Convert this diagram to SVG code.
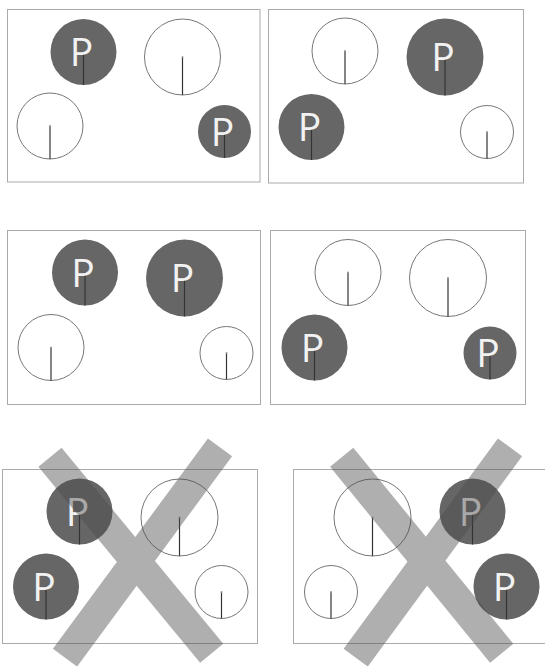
<svg xmlns="http://www.w3.org/2000/svg" width="545" height="666" viewBox="0 0 545 666">
<style>
.panel{fill:none;stroke:#aaaaaa;stroke-width:1}
.dark{fill:#666666;stroke:none}
.light{fill:#ffffff;stroke:#777777;stroke-width:1}
.stem{stroke:#333333;stroke-width:1.2}
.dot{fill:#999999}
.p{font-family:"Open Sans","Noto Sans",sans-serif;font-size:39px;fill:#f2f2f2;text-anchor:middle}
.x{stroke:#4b4b4b;stroke-width:30;stroke-linecap:butt}
</style>
<rect x="0" y="0" width="545" height="666" fill="#ffffff"/>

<g id="panel1">
<rect class="panel" x="7.5" y="9.5" width="252.5" height="172.5"/>
<g id="p1-a"><circle class="dark" cx="83.5" cy="52" r="33"/><line class="stem" x1="83.5" y1="52" x2="83.5" y2="85"/><text class="p" x="81.5" y="66">P</text></g>
<g id="p1-b"><circle class="light" cx="182.5" cy="57" r="38"/><line class="stem" x1="182.5" y1="57" x2="182.5" y2="95"/><circle class="dot" cx="182.5" cy="57" r="1"/></g>
<g id="p1-c"><circle class="light" cx="50" cy="126" r="33"/><line class="stem" x1="50" y1="126" x2="50" y2="159"/><circle class="dot" cx="50" cy="126" r="1"/></g>
<g id="p1-d"><circle class="dark" cx="224.5" cy="131.5" r="26.5"/><line class="stem" x1="224.5" y1="131.5" x2="224.5" y2="158"/><text class="p" x="222.5" y="146">P</text></g>
</g>

<g id="panel2">
<rect class="panel" x="268.5" y="9.5" width="255" height="173.5"/>
<g id="p2-a"><circle class="light" cx="345" cy="51" r="33"/><line class="stem" x1="345" y1="51" x2="345" y2="84"/><circle class="dot" cx="345" cy="51" r="1"/></g>
<g id="p2-b"><circle class="dark" cx="445" cy="57" r="38.5"/><line class="stem" x1="445" y1="57" x2="445" y2="95.5"/><text class="p" x="443" y="71">P</text></g>
<g id="p2-c"><circle class="dark" cx="311.5" cy="127" r="33"/><line class="stem" x1="311.5" y1="127" x2="311.5" y2="160"/><text class="p" x="309.5" y="141">P</text></g>
<g id="p2-d"><circle class="light" cx="487" cy="132" r="26.5"/><line class="stem" x1="487" y1="132" x2="487" y2="158.5"/><circle class="dot" cx="487" cy="132" r="1"/></g>
</g>

<g id="panel3">
<rect class="panel" x="7.5" y="230.5" width="253" height="174"/>
<g id="p3-a"><circle class="dark" cx="85" cy="272.5" r="33"/><line class="stem" x1="85" y1="272.5" x2="85" y2="305.5"/><text class="p" x="83" y="286.5">P</text></g>
<g id="p3-b"><circle class="dark" cx="184.5" cy="278" r="38.5"/><line class="stem" x1="184.5" y1="278" x2="184.5" y2="316.5"/><text class="p" x="182.5" y="292">P</text></g>
<g id="p3-c"><circle class="light" cx="51" cy="347.5" r="33"/><line class="stem" x1="51" y1="347.5" x2="51" y2="380.5"/><circle class="dot" cx="51" cy="347.5" r="1"/></g>
<g id="p3-d"><circle class="light" cx="226.5" cy="353" r="26.5"/><line class="stem" x1="226.5" y1="353" x2="226.5" y2="379.5"/><circle class="dot" cx="226.5" cy="353" r="1"/></g>
</g>

<g id="panel4">
<rect class="panel" x="270.5" y="230.5" width="255" height="174"/>
<g id="p4-a"><circle class="light" cx="348" cy="272.5" r="33"/><line class="stem" x1="348" y1="272.5" x2="348" y2="305.5"/><circle class="dot" cx="348" cy="272.5" r="1"/></g>
<g id="p4-b"><circle class="light" cx="448" cy="278" r="38.5"/><line class="stem" x1="448" y1="278" x2="448" y2="316.5"/><circle class="dot" cx="448" cy="278" r="1"/></g>
<g id="p4-c"><circle class="dark" cx="314.5" cy="347.5" r="33"/><line class="stem" x1="314.5" y1="347.5" x2="314.5" y2="380.5"/><text class="p" x="312.5" y="361.5">P</text></g>
<g id="p4-d"><circle class="dark" cx="490" cy="353" r="26.5"/><line class="stem" x1="490" y1="353" x2="490" y2="379.5"/><text class="p" x="488" y="367">P</text></g>
</g>

<g id="panel5">
<rect class="panel" x="2.5" y="469.5" width="255" height="174"/>
<g id="p5-a"><circle class="dark" cx="79.5" cy="511.5" r="33"/><line class="stem" x1="79.5" y1="511.5" x2="79.5" y2="544.5"/><text class="p" x="77.5" y="525.5">P</text></g>
<g id="p5-b"><circle class="dark" cx="46" cy="586.5" r="33"/><line class="stem" x1="46" y1="586.5" x2="46" y2="619.5"/><text class="p" x="44" y="600.5">P</text></g>
<g id="p5-c"><circle class="light" cx="179.5" cy="517.5" r="38.5"/><line class="stem" x1="179.5" y1="517.5" x2="179.5" y2="556"/><circle class="dot" cx="179.5" cy="517.5" r="1"/></g>
<g id="p5-d"><circle class="light" cx="221.5" cy="592" r="26.5"/><line class="stem" x1="221.5" y1="592" x2="221.5" y2="618.5"/><circle class="dot" cx="221.5" cy="592" r="1"/></g>
<g id="cross5" opacity="0.44">
<line class="x" x1="50" y1="457.3" x2="211.7" y2="653.3"/>
<line class="x" x1="220" y1="447.3" x2="65" y2="657.7"/>
</g>
</g>

<g id="panel6">
<rect class="panel" x="293.5" y="469.5" width="255" height="174"/>
<g id="p6-a"><circle class="light" cx="372.5" cy="517.5" r="38.5"/><line class="stem" x1="372.5" y1="517.5" x2="372.5" y2="556"/><circle class="dot" cx="372.5" cy="517.5" r="1"/></g>
<g id="p6-b"><circle class="light" cx="331" cy="592" r="26.5"/><line class="stem" x1="331" y1="592" x2="331" y2="618.5"/><circle class="dot" cx="331" cy="592" r="1"/></g>
<g id="p6-c"><circle class="dark" cx="472.5" cy="511.5" r="33"/><line class="stem" x1="472.5" y1="511.5" x2="472.5" y2="544.5"/><text class="p" x="470.5" y="525.5">P</text></g>
<g id="p6-d"><circle class="dark" cx="506.5" cy="586.5" r="33"/><line class="stem" x1="506.5" y1="586.5" x2="506.5" y2="619.5"/><text class="p" x="504.5" y="600.5">P</text></g>
<g id="cross6" opacity="0.44">
<line class="x" x1="341.7" y1="457.3" x2="501.7" y2="653.3"/>
<line class="x" x1="510" y1="447.3" x2="355.7" y2="657.7"/>
</g>
</g>
</svg>
